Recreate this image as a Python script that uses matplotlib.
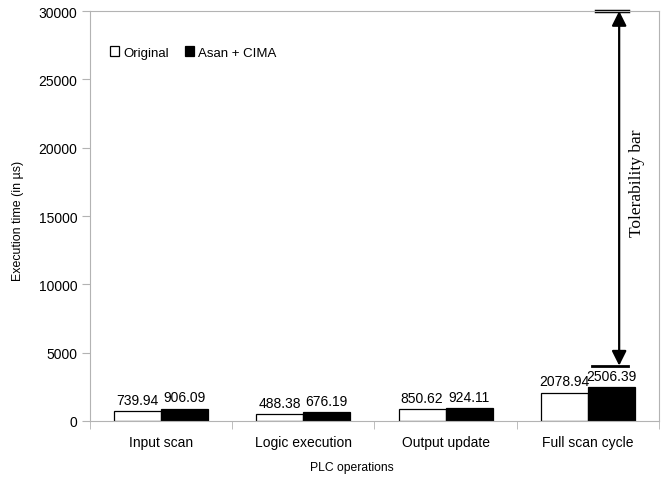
import numpy as np
import matplotlib
matplotlib.use('Agg')
import matplotlib.pyplot as plt

plt.rcParams['font.family'] = ['Liberation Sans', 'DejaVu Sans']

# data
operations = ['Input scan', 'Logic execution', 'Output update', 'Full scan cycle']
original = [739.94, 488.38, 850.62, 2078.94]
asan_cima = [906.09, 676.19, 924.11, 2506.39]
tolerability_top = 30000
tolerability_bottom = 4050

fig = plt.figure(figsize=(6.7, 4.81), dpi=100)
ax = fig.add_axes([0.134, 0.1227, 0.8496, 0.8523])

x = np.arange(len(operations))
w = 0.33
b1 = ax.bar(x - w / 2, original, w, color='white', edgecolor='black', linewidth=0.9, label='Original')
b2 = ax.bar(x + w / 2, asan_cima, w, color='black', edgecolor='black', linewidth=0.9, label='Asan + CIMA')
ax.bar_label(b1, labels=['%.2f' % v for v in original], padding=3, fontsize=10)
ax.bar_label(b2, labels=['%.2f' % v for v in asan_cima], padding=3, fontsize=10)

ax.set_xlim(-0.5, 3.5)
ax.set_ylim(0, 30000)
ax.set_yticks(range(0, 30001, 5000))
ax.set_xticks(x)
ax.set_xticklabels(operations, fontsize=10)
ax.set_xticks(np.arange(-0.5, 3.6, 1), minor=True)
ax.tick_params(axis='x', which='major', length=0, pad=10)
ax.tick_params(axis='x', which='minor', length=6, color='#b3b3b3')
ax.tick_params(axis='y', length=6, color='#b3b3b3', labelsize=10, pad=3)

for s in ax.spines.values():
    s.set_color('#b3b3b3')

# axis titles placed by hand
fig.text(352 / 670, 1 - 468 / 481, 'PLC operations', fontsize=8.7, ha='center', va='center')
fig.text(18 / 670, 1 - 221 / 481, 'Execution time (in µs)', fontsize=8.9,
         rotation=90, ha='center', va='center')

ax.legend(loc='upper left', bbox_to_anchor=(0.015, 0.943), ncol=2, frameon=False,
          fontsize=9.5, handlelength=0.7, handleheight=0.7, handletextpad=0.3,
          columnspacing=1.2)

# tolerability bar
ax.annotate('', xy=(3.22, tolerability_top), xytext=(3.22, tolerability_bottom),
            arrowprops=dict(arrowstyle='<|-|>', color='black', lw=1.6, mutation_scale=22,
                            shrinkA=0, shrinkB=0))
ax.plot([3.06, 3.28], [tolerability_top, tolerability_top], color='black', lw=2.5, clip_on=False)
ax.plot([3.03, 3.28], [tolerability_bottom, tolerability_bottom], color='black', lw=2)
ax.text(3.345, 17500, 'Tolerability bar', rotation=90, ha='center', va='center',
        fontsize=12.5, family=['Liberation Serif', 'DejaVu Serif'])

fig.savefig('out.png', dpi=100)
